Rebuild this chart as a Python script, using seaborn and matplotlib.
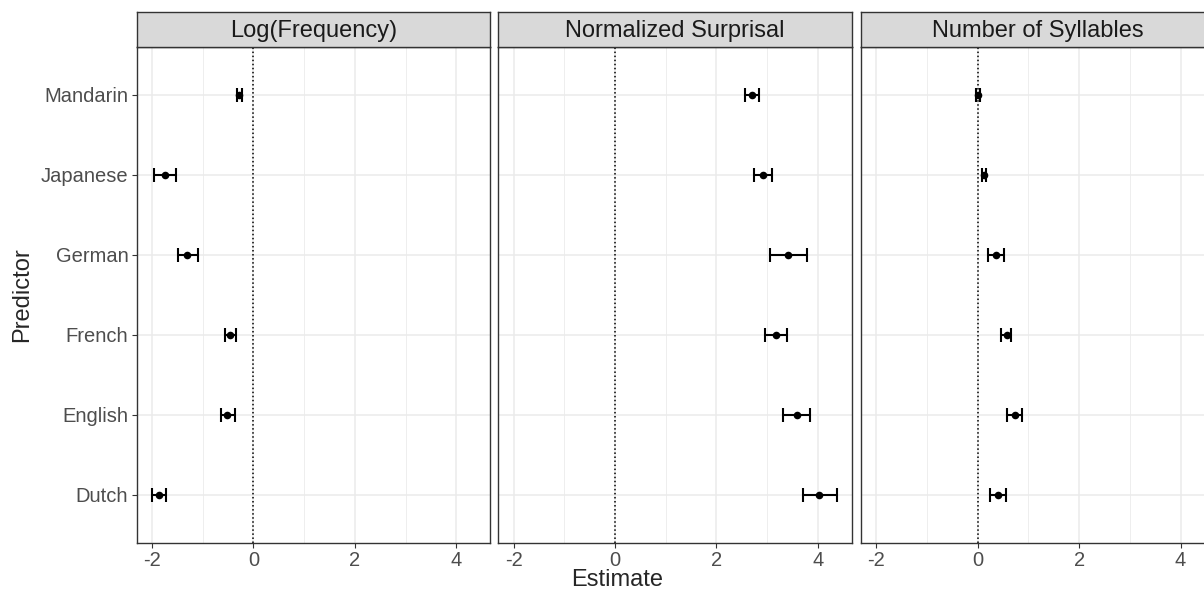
import seaborn as sns
import matplotlib.pyplot as plt
import matplotlib.ticker as mticker
import pandas as pd
import numpy as np

# Datos
idiomas = ['Dutch', 'English', 'French', 'German', 'Japanese', 'Mandarin']
paneles = ['Log(Frequency)', 'Normalized Surprisal', 'Number of Syllables']

est_freq = [-1.86, -0.51, -0.46, -1.30, -1.74, -0.28]
lo_freq = [-2.00, -0.63, -0.56, -1.49, -1.95, -0.33]
hi_freq = [-1.72, -0.36, -0.34, -1.09, -1.52, -0.23]

est_surp = [4.03, 3.58, 3.17, 3.42, 2.92, 2.71]
lo_surp = [3.70, 3.32, 2.95, 3.05, 2.75, 2.57]
hi_surp = [4.37, 3.84, 3.40, 3.78, 3.10, 2.85]

est_syl = [0.40, 0.73, 0.57, 0.36, 0.125, 0.00]
lo_syl = [0.25, 0.58, 0.46, 0.21, 0.08, -0.04]
hi_syl = [0.55, 0.88, 0.66, 0.52, 0.17, 0.05]

filas = []
for panel, est, lo, hi in zip(paneles,
                              [est_freq, est_surp, est_syl],
                              [lo_freq, lo_surp, lo_syl],
                              [hi_freq, hi_surp, hi_syl]):
    for i, idioma in enumerate(idiomas):
        filas.append({'Panel': panel, 'Predictor': idioma, 'pos': i + 1,
                      'Estimate': est[i], 'lo': lo[i], 'hi': hi[i]})
df = pd.DataFrame(filas)

sns.set_style('white')
plt.rcParams['font.family'] = ['Liberation Sans', 'DejaVu Sans']

W, H = 1204, 594
fig = plt.figure(figsize=(W / 100, H / 100), dpi=100)

izq = [136.7, 498.3, 861.0]
ancho = 353.5
arriba_strip, arriba_panel, abajo = 12, 47, 543
borde = '#333333'

for k, panel in enumerate(paneles):
    x0 = izq[k]
    ax = fig.add_axes([x0 / W, 1 - abajo / H, ancho / W, (abajo - arriba_panel) / H])
    sub = df[df['Panel'] == panel]

    ax.set_xlim(-2.3, 4.67)
    ax.set_ylim(0.4, 6.6)
    ax.xaxis.set_major_locator(mticker.FixedLocator([-2, 0, 2, 4]))
    ax.xaxis.set_minor_locator(mticker.FixedLocator([-1, 1, 3]))
    ax.grid(which='major', color='#EBEBEB', linewidth=1.1)
    ax.grid(which='minor', axis='x', color='#EBEBEB', linewidth=0.6)
    ax.set_axisbelow(True)

    ax.axvline(0, color='black', linestyle=':', linewidth=1.1, zorder=2)
    ax.errorbar(sub['Estimate'], sub['pos'],
                xerr=[sub['Estimate'] - sub['lo'], sub['hi'] - sub['Estimate']],
                fmt='none', ecolor='black', elinewidth=1.5, capsize=5,
                capthick=1.5, zorder=3)
    sns.scatterplot(data=sub, x='Estimate', y='pos', color='black', s=30,
                    edgecolor='black', linewidth=0, zorder=4, ax=ax)

    ax.set_yticks(range(1, len(idiomas) + 1))
    if k == 0:
        ax.set_yticklabels(idiomas)
    else:
        ax.set_yticklabels([])
        ax.tick_params(axis='y', length=0)
    ax.set_xticklabels(['-2', '0', '2', '4'])
    ax.tick_params(axis='both', which='major', labelsize=14.5, colors=borde,
                   length=3.5, width=0.8, direction='out', pad=2.5,
                   bottom=True, left=(k == 0))
    ax.tick_params(axis='x', which='minor', length=0)
    for lab in ax.get_xticklabels() + ax.get_yticklabels():
        lab.set_color('#4D4D4D')
    ax.set_xlabel('')
    ax.set_ylabel('')
    for s in ax.spines.values():
        s.set_color(borde)
        s.set_linewidth(1.0)

    # Cabecera del panel
    sx = fig.add_axes([x0 / W, 1 - arriba_panel / H, ancho / W, (arriba_panel - arriba_strip) / H])
    sx.set_facecolor('#D9D9D9')
    sx.set_xticks([])
    sx.set_yticks([])
    for s in sx.spines.values():
        s.set_color(borde)
        s.set_linewidth(1.0)
    sx.text(0.5, 0.47, panel, ha='center', va='center', fontsize=17,
            color='#1A1A1A', transform=sx.transAxes)

fig.text(617 / W, 1 - 580 / H, 'Estimate', ha='center', va='center', fontsize=17)
fig.text(22 / W, 1 - 295 / H, 'Predictor', ha='center', va='center',
         rotation=90, fontsize=17)

fig.savefig('out.png', dpi=100)
